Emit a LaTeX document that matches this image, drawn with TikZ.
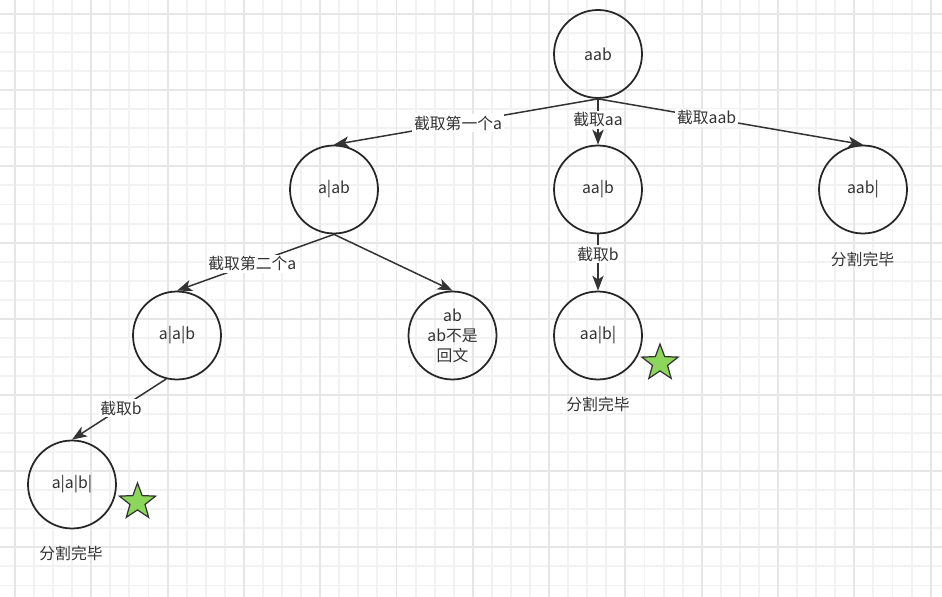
\documentclass[tikz,border=0pt]{standalone}
\usepackage{fontspec}
\setmainfont{Noto Sans CJK SC}
\usetikzlibrary{arrows.meta,shapes.geometric}
\definecolor{linegray}{HTML}{333333}
\definecolor{stargreen}{HTML}{8CD65C}
\definecolor{gridminor}{HTML}{F2F2F2}
\definecolor{gridmajor}{HTML}{E6E6E6}

\begin{document}
\begin{tikzpicture}[x=0.02cm,y=-0.02cm,
                       thick,font=\fontsize{9}{11.3}\selectfont,text=linegray,
                       main node/.style={circle,draw=black!85,line width=1pt,minimum size=1.76cm,inner sep=0pt,align=center},
                       cut label/.style={fill=white,inner sep=1pt},
                       star node/.style={star,star points=5,star point ratio=2.4,draw=linegray,fill=stargreen,line width=0.7pt,minimum size=0.76cm,inner sep=0pt},
                       grid line/.style={line width=1.1pt},
                       every edge/.style={draw=linegray,line width=0.85pt,-{Stealth[length=8.5pt,width=6.4pt,inset=2.2pt]}}
                      ]
  \useasboundingbox (0,0) rectangle (942,597);
  \fill[white] (0,0) rectangle (942,597);
  \foreach \k in {-1,...,49} \draw[gridminor,grid line] ({15+19.075*\k},0) -- ({15+19.075*\k},597);
  \foreach \k in {-1,...,31} \draw[gridminor,grid line] (0,{14+19.05*\k}) -- (942,{14+19.05*\k});
  \foreach \k in {0,4,...,48} \draw[gridmajor,grid line] ({15+19.075*\k},0) -- ({15+19.075*\k},597);
  \foreach \k in {0,4,...,28} \draw[gridmajor,grid line] (0,{14+19.05*\k}) -- (942,{14+19.05*\k});

  \node[main node] (aab) at (598,54) {aab};
  \node[main node] (a1) at (334,189.5) {a|ab};
  \node[main node] (aa1) at (598,189.5) {aa|b};
  \node[main node] (aab1) at (863,189.5) {aab|};
  \node[main node] (a2) at (177,335.5) {a|a|b};
  \node[main node] (ab) at (452.5,335.5) {ab\\ab不是\\回文};
  \node[main node] (aa2) at (598,335.5) {aa|b|};
  \node[main node] (a3) at (72,484.5) {a|a|b|};

  \node[star node] (star1) at (137.5,502) {};
  \node[star node] (star2) at (660,363) {};

  \node (done1) at (71,553) {分割完毕};
  \node (done2) at (598,404) {分割完毕};
  \node (done3) at (862.5,259.5) {分割完毕};

  \path%
   (aab.south) edge node[cut label,pos=0.53] {截取第一个a} (a1.north)
   (aab.south) edge node[cut label,pos=0.46] {截取aa} (aa1.north)
   (aab.south) edge node[cut label,pos=0.41] {截取aab} (aab1.north)
   (a1.south) edge node[cut label,pos=0.52] {截取第二个a} (a2.north)
   (a1.south) edge (ab.north)
   (aa1.south) edge node[cut label,pos=0.35] {截取b} (aa2.north)
   (a2.-104) edge node[cut label,pos=0.48] {截取b} (a3.north);
 \end{tikzpicture}
\end{document}
